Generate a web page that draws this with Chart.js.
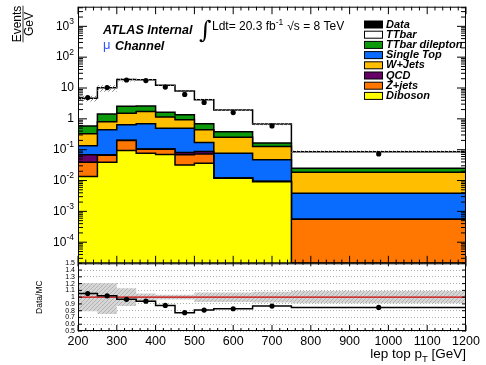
<!DOCTYPE html>
<html>
<head>
<meta charset="utf-8">
<script src="https://cdn.jsdelivr.net/npm/chart.js@4.4.1/dist/chart.umd.min.js"></script>
<style>
  html, body { margin: 0; padding: 0; background: #fff; }
  #wrap { position: relative; width: 486px; height: 365px; overflow: hidden; }
  #wrap canvas { position: absolute; left: 0; top: 0; }
</style>
</head>
<body>
<div id="wrap">
  <canvas id="main" width="486" height="365"></canvas>
  <canvas id="ratio" width="486" height="365"></canvas>
</div>
<script>
// lep top pT binning [GeV]
const binEdges = [200, 250, 300, 350, 400, 450, 500, 550, 650, 750, 1200];

// Events / GeV in each bin
const dataVals  = [4.9, 10.3, 18.2, 17.4, 10.7, 6.2, 3.4, 1.6, 0.59, 0.073];
const ttbar     = [4.06, 8.67, 16.25, 15.9, 10.55, 6.68, 3.51, 1.55, 0.515, 0.061];
const ttDilep   = [0.26, 0.63, 1.02, 0.88, 0.51, 0.44, 0.25, 0.125, 0.039, 0.0064];
const wJets     = [0.197, 0.36, 0.89, 1.03, 0.64, 0.43, 0.27, 0.178, 0.079, 0.0147];
const singleTop = [0.065, 0.371, 0.44, 0.584, 0.395, 0.419, 0.083, 0.065, 0.0376, 0.00335];
const qcd       = [0.029, 0.003, 0.002, 0.002, 0.002, 0.013, 0.014, 0.0001, 0.0001, 0];
const zJets     = [0.0256, 0.027, 0.106, 0.027, 0.033, 0.036, 0.037, 0.0002, 0.0001, 0.00055];
const diboson   = [0.0134, 0.039, 0.094, 0.077, 0.070, 0.032, 0.036, 0.0118, 0.0092, 0];

// relative uncertainty on the MC sum
const mcErrUp   = [0.21, 0.21, 0.13, 0.055, 0.035, 0.035, 0.07, 0.07, 0.08, 0.09];
const mcErrDown = [0.21, 0.25, 0.13, 0.06, 0.035, 0.035, 0.07, 0.07, 0.08, 0.09];

const ratioTicks = [0.5, 0.6, 0.7, 0.8, 0.9, 1.0, 1.1, 1.2, 1.3, 1.4, 1.5];

const LOG_MIN = 2.07e-5, LOG_MAX = 4330;
const FONT = '"Liberation Sans", Arial, sans-serif';

// stack, bottom to top
const stack = [
  { name: 'Diboson',        vals: diboson,   color: '#ffff00' },
  { name: 'Z+jets',         vals: zJets,     color: '#ff7700' },
  { name: 'QCD',            vals: qcd,       color: '#660066' },
  { name: 'Single Top',     vals: singleTop, color: '#0a6cff' },
  { name: 'W+Jets',         vals: wJets,     color: '#ffbf00' },
  { name: 'TTbar dilepton', vals: ttDilep,   color: '#0c9a0c' },
  { name: 'TTbar',          vals: ttbar,     color: '#ffffff' }
];
const legendOrder = ['TTbar', 'TTbar dilepton', 'Single Top', 'W+Jets', 'QCD', 'Z+jets', 'Diboson'];

let running = new Array(dataVals.length).fill(0);
stack.forEach(s => {
  running = running.map((r, i) => r + s.vals[i]);
  s.cum = running.slice();
});
const mcTotal = running;
const ratio = dataVals.map((d, i) => d / mcTotal[i]);
const centers = binEdges.slice(0, -1).map((e, i) => (e + binEdges[i + 1]) / 2);

function stepPoints(vals, floor) {
  return binEdges.map((e, i) => {
    const v = vals[Math.min(i, vals.length - 1)];
    return { x: e, y: floor !== undefined ? Math.max(v, floor) : v };
  });
}

function hatch(bg, fg) {
  const c = document.createElement('canvas');
  c.width = 4; c.height = 4;
  const g = c.getContext('2d');
  if (bg) { g.fillStyle = bg; g.fillRect(0, 0, 4, 4); }
  g.strokeStyle = fg; g.lineWidth = 1;
  g.beginPath(); g.moveTo(0, 4); g.lineTo(4, 0); g.stroke();
  return g.createPattern(c, 'repeat');
}

function seg(ctx, x1, y1, x2, y2) {
  ctx.beginPath(); ctx.moveTo(x1, y1); ctx.lineTo(x2, y2); ctx.stroke();
}

// ROOT style frame with inward ticks on all sides
function drawXTicks(ctx, a, x, topLen, botLen) {
  for (let v = 200; v <= 1200; v += 20) {
    const px = x.getPixelForValue(v);
    const major = v % 100 === 0;
    if (topLen) seg(ctx, px, a.top, px, a.top + (major ? topLen : topLen / 2));
    if (botLen) seg(ctx, px, a.bottom, px, a.bottom - (major ? botLen : botLen / 2));
  }
}

const mainDecor = {
  id: 'mainDecor',
  afterDraw(chart) {
    const { ctx, chartArea: a, scales: { x, y } } = chart;
    ctx.save();
    ctx.strokeStyle = '#000';
    ctx.lineWidth = 1;
    drawXTicks(ctx, a, x, 7.5, 7.5);
    // log ticks
    for (let k = -5; k <= 3; k++) {
      for (let m = 1; m <= 9; m++) {
        const v = m * Math.pow(10, k);
        if (v < LOG_MIN || v > LOG_MAX) continue;
        const py = y.getPixelForValue(v);
        const len = m === 1 ? 9 : 5;
        seg(ctx, a.left, py, a.left + len, py);
        seg(ctx, a.right, py, a.right - len, py);
      }
    }
    ctx.strokeRect(a.left + 0.5, a.top + 0.5, a.right - a.left - 1, a.bottom - a.top - 1);

    // decade labels
    ctx.fillStyle = '#000';
    ctx.textBaseline = 'middle';
    ctx.textAlign = 'left';
    for (let k = -4; k <= 3; k++) {
      const py = y.getPixelForValue(Math.pow(10, k));
      const base = k === 0 ? '1' : '10';
      const sup = (k === 0 || k === 1) ? '' : String(k);
      ctx.font = '12px ' + FONT;
      const wb = ctx.measureText(base).width;
      ctx.font = '8.5px ' + FONT;
      const ws = ctx.measureText(sup).width;
      const xr = 74;
      ctx.font = '12px ' + FONT;
      ctx.fillText(base, xr - ws - wb, py);
      if (sup) {
        ctx.font = '8.5px ' + FONT;
        ctx.fillText(sup, xr - ws, py - 5);
      }
    }

    // Events / GeV
    ctx.save();
    ctx.translate(22.5, 24);
    ctx.rotate(-Math.PI / 2);
    ctx.font = '12px ' + FONT;
    ctx.textAlign = 'center';
    ctx.textBaseline = 'alphabetic';
    ctx.fillText('Events', 0, -1.5);
    ctx.fillText('GeV', 0, 10);
    const we = ctx.measureText('Events').width;
    ctx.lineWidth = 0.8;
    seg(ctx, -we / 2, 0.5, we / 2, 0.5);
    ctx.restore();

    // labels
    ctx.textBaseline = 'alphabetic';
    ctx.textAlign = 'left';
    ctx.font = 'italic bold 12.5px ' + FONT;
    ctx.fillText('ATLAS Internal', 103, 33.5);
    ctx.fillStyle = '#3355ff';
    ctx.font = '13px ' + FONT;
    ctx.fillText('\u03bc', 103, 49);
    ctx.fillStyle = '#000';
    ctx.font = 'italic bold 12.5px ' + FONT;
    ctx.fillText('Channel', 115, 49.5);

    ctx.font = '24px "DejaVu Serif", serif';
    ctx.fillText('\u222b', 199, 38);
    let tx = 212;
    const lumiBase = 30;
    ctx.font = '12px ' + FONT;
    ctx.fillText('Ldt= 20.3 fb', tx, lumiBase);
    tx += ctx.measureText('Ldt= 20.3 fb').width;
    ctx.font = '8.5px ' + FONT;
    ctx.fillText('-1', tx, lumiBase - 5);
    tx += ctx.measureText('-1').width + 4;
    ctx.font = '12px ' + FONT;
    ctx.fillText('\u221as = 8 TeV', tx, lumiBase);

    // legend
    const entries = [['Data', '#000000']].concat(
      legendOrder.map(n => [n, stack.find(s => s.name === n).color]));
    ctx.font = 'italic bold 11px ' + FONT;
    ctx.textBaseline = 'middle';
    entries.forEach(([name, color], i) => {
      const cy = 24.5 + i * 10.2;
      ctx.fillStyle = color;
      ctx.fillRect(364.5, cy - 3.5, 18, 7);
      ctx.strokeStyle = '#000';
      ctx.lineWidth = 1;
      ctx.strokeRect(364.5, cy - 3.5, 18, 7);
      ctx.fillStyle = '#000';
      ctx.fillText(name, 386, cy);
    });
    ctx.restore();
  }
};

const ratioDecor = {
  id: 'ratioDecor',
  afterDraw(chart) {
    const { ctx, chartArea: a, scales: { x, y } } = chart;
    ctx.save();
    ctx.strokeStyle = '#000';
    ctx.lineWidth = 1;
    drawXTicks(ctx, a, x, 3, 6);
    ratioTicks.forEach(v => {
      const py = y.getPixelForValue(v);
      seg(ctx, a.left, py, a.left + 4, py);
      seg(ctx, a.right, py, a.right - 4, py);
    });
    ctx.strokeRect(a.left + 0.5, a.top + 0.5, a.right - a.left - 1, a.bottom - a.top - 1);

    ctx.fillStyle = '#000';
    ctx.save();
    ctx.translate(40, (a.top + a.bottom) / 2);
    ctx.rotate(-Math.PI / 2);
    ctx.font = '8.5px ' + FONT;
    ctx.textAlign = 'center';
    ctx.textBaseline = 'middle';
    ctx.fillText('Data/MC', 0, 0);
    ctx.restore();

    // axis title, right aligned
    const base = 358;
    ctx.textBaseline = 'alphabetic';
    ctx.textAlign = 'left';
    ctx.font = '13.5px ' + FONT;
    const p1 = 'lep top p', p2 = ' [GeV]';
    const w1 = ctx.measureText(p1).width, w3 = ctx.measureText(p2).width;
    ctx.font = '9.5px ' + FONT;
    const w2 = ctx.measureText('T').width;
    let tx = a.right - w1 - w2 - w3;
    ctx.font = '13.5px ' + FONT;
    ctx.fillText(p1, tx, base);
    ctx.font = '9.5px ' + FONT;
    ctx.fillText('T', tx + w1, base + 4);
    ctx.font = '13.5px ' + FONT;
    ctx.fillText(p2, tx + w1 + w2, base);
    ctx.restore();
  }
};

Chart.defaults.font.family = FONT;

// main panel
const mainSets = [
  {
    data: centers.map((c, i) => ({ x: c, y: dataVals[i] })),
    showLine: false, pointRadius: 2.6, pointBackgroundColor: '#000',
    pointBorderWidth: 0, order: 0
  },
  {
    data: stepPoints(mcTotal.map((v, i) => v * (1 + mcErrUp[i]))),
    stepped: true, pointRadius: 0, borderWidth: 0, borderColor: 'rgba(0,0,0,0)',
    backgroundColor: hatch(null, '#8a8a8a'), fill: '+1', order: 1
  },
  {
    data: stepPoints(mcTotal.map((v, i) => v * (1 - mcErrDown[i]))),
    stepped: true, pointRadius: 0, borderWidth: 0, borderColor: 'rgba(0,0,0,0)',
    fill: false, order: 1
  }
].concat(stack.map((s, i) => ({
  label: s.name,
  data: stepPoints(s.cum, LOG_MIN),
  stepped: true, pointRadius: 0,
  borderColor: '#000', borderWidth: 1.5,
  backgroundColor: s.color, fill: 'start',
  clip: 0, order: 2 + i
})));

new Chart(document.getElementById('main'), {
  type: 'line',
  data: { datasets: mainSets },
  options: {
    responsive: false, animation: false,
    layout: { padding: { top: 6.7, right: 20, bottom: 101.7, left: 0 } },
    plugins: { legend: { display: false }, tooltip: { enabled: false } },
    scales: {
      x: { type: 'linear', min: 200, max: 1200, display: false },
      y: {
        type: 'logarithmic', min: LOG_MIN, max: LOG_MAX,
        ticks: { display: false }, grid: { display: false }, border: { display: false },
        afterFit: s => { s.width = 78; }
      }
    }
  },
  plugins: [mainDecor]
});

// ratio panel
const ratioSets = [
  {
    data: centers.map((c, i) => ({ x: c, y: ratio[i] })),
    showLine: false, pointRadius: 2.6, pointBackgroundColor: '#000',
    pointBorderWidth: 0, order: 0
  },
  {
    data: stepPoints(ratio), stepped: true, pointRadius: 0,
    borderColor: '#000', borderWidth: 1.5, fill: false, clip: 0, order: 1
  },
  {
    data: stepPoints(ratio.map(() => 1)), pointRadius: 0,
    borderColor: '#cc0000', borderWidth: 1.2, fill: false, order: 2
  },
  {
    data: stepPoints(mcErrUp.map(u => 1 + u)), stepped: true, pointRadius: 0,
    borderWidth: 0, borderColor: 'rgba(0,0,0,0)',
    backgroundColor: hatch('#d6d6d6', '#b2b2b2'), fill: '+1', order: 3
  },
  {
    data: stepPoints(mcErrDown.map(d => 1 - d)), stepped: true, pointRadius: 0,
    borderWidth: 0, borderColor: 'rgba(0,0,0,0)', fill: false, order: 3
  }
];

new Chart(document.getElementById('ratio'), {
  type: 'line',
  data: { datasets: ratioSets },
  options: {
    responsive: false, animation: false,
    layout: { padding: { top: 263.3, right: 20, bottom: 0, left: 0 } },
    plugins: { legend: { display: false }, tooltip: { enabled: false } },
    scales: {
      x: {
        type: 'linear', min: 200, max: 1200,
        ticks: {
          stepSize: 100, autoSkip: false, maxRotation: 0, padding: 3,
          color: '#000', font: { size: 12.5 },
          callback: v => String(v)
        },
        grid: { display: false, drawTicks: false }, border: { display: false },
        afterFit: s => { s.height = 34; }
      },
      y: {
        type: 'linear', min: 0.5, max: 1.5,
        afterBuildTicks: s => { s.ticks = ratioTicks.map(v => ({ value: v })); },
        ticks: {
          padding: 3, color: '#000', font: { size: 7 }, autoSkip: false,
          callback: v => String(Math.round(v * 10) / 10)
        },
        grid: { color: '#9a9a9a', lineWidth: 0.8, drawTicks: false },
        border: { display: false, dash: [1, 2] },
        afterFit: s => { s.width = 78; }
      }
    }
  },
  plugins: [ratioDecor]
});
</script>
</body>
</html>
